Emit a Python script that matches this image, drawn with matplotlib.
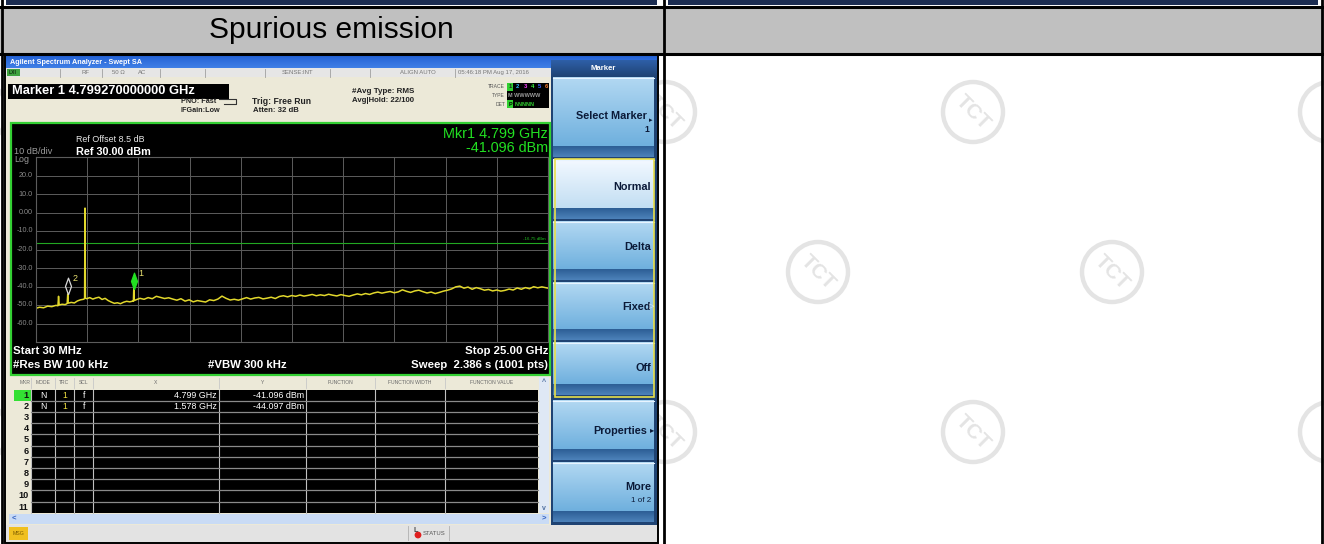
import numpy as np
import matplotlib
matplotlib.use("Agg")
import matplotlib.pyplot as plt
from matplotlib.patches import Rectangle, Circle
from matplotlib.ticker import LinearLocator
from matplotlib.colors import to_rgb
import matplotlib.transforms as mtransforms

plt.rcParams['font.family'] = ['Liberation Sans', 'DejaVu Sans']

W, H = 1324, 544

# ---- analyzer settings / data ----
start_ghz, stop_ghz = 0.03, 25.0
ref_level, db_div = 30.0, 10.0
display_line = -16.75

trace_ghz = [0.03, 0.2, 0.4, 0.6, 0.8, 1.0, 1.1, 1.13, 1.16, 1.3,
             1.45, 1.55, 1.578, 1.6, 1.75, 1.9, 2.05, 2.2, 2.35, 2.40,
             2.42, 2.44, 2.5, 2.65, 2.8, 2.95, 3.1, 3.25, 3.4, 3.55,
             3.7, 3.85, 4.0, 4.15, 4.3, 4.45, 4.6, 4.75, 4.78, 4.799,
             4.82, 4.95, 5.1, 5.3, 5.5, 5.7, 5.9, 6.1, 6.3, 6.5,
             6.7, 6.9, 7.1, 7.3, 7.5, 7.7, 7.9, 8.1, 8.3, 8.5,
             8.7, 8.9, 9.1, 9.3, 9.5, 9.7, 9.9, 10.1, 10.3, 10.5,
             10.7, 10.9, 11.1, 11.3, 11.5, 11.7, 11.9, 12.1, 12.3, 12.5,
             12.7, 12.9, 13.1, 13.3, 13.5, 13.7, 13.9, 14.1, 14.3, 14.5,
             14.7, 14.9, 15.1, 15.3, 15.5, 15.7, 15.9, 16.1, 16.3, 16.5,
             16.7, 16.9, 17.1, 17.3, 17.5, 17.7, 17.9, 18.1, 18.3, 18.5,
             18.7, 18.9, 19.1, 19.3, 19.5, 19.7, 19.9, 20.1, 20.3, 20.5,
             20.7, 20.9, 21.1, 21.3, 21.5, 21.7, 21.9, 22.1, 22.3, 22.5,
             22.7, 22.9, 23.1, 23.3, 23.5, 23.7, 23.9, 24.1, 24.3, 24.5,
             24.7, 25.0]
trace_dbm = [-51.8, -51.2, -51.5, -50.6, -50.9, -50.2, -50.4, -45.3, -50.0, -49.6,
             -49.8, -49.2, -44.1, -49.0, -48.6, -48.9, -47.8, -47.2, -46.9, -46.5,
             2.4, -46.3, -46.6, -46.0, -46.8, -46.2, -45.8, -47.0, -46.4, -47.6,
             -48.4, -49.1, -48.8, -49.3, -48.5, -48.0, -48.3, -47.9, -48.0, -41.1,
             -47.6, -47.0, -46.4, -46.9, -46.0, -46.6, -45.3, -45.9, -46.5, -46.1,
             -46.8, -47.4, -46.6, -47.9, -47.2, -48.3, -47.6, -48.0, -48.4, -47.2,
             -47.6, -46.8, -45.2, -46.4, -47.3, -46.9, -47.4, -46.7, -46.0, -46.8,
             -46.2, -45.9, -46.7, -46.3, -45.8, -46.5, -45.4, -45.0, -45.6, -44.9,
             -45.3, -44.6, -45.2, -44.8, -44.3, -45.0, -44.5, -44.9, -44.2, -44.7,
             -45.1, -44.4, -44.9, -45.3, -44.6, -44.0, -44.5, -43.8, -44.3, -43.5,
             -43.0, -43.6, -43.1, -42.7, -43.4, -42.9, -41.8, -42.6, -43.2, -42.4,
             -42.0, -42.8, -43.5, -43.0, -43.8, -43.2, -42.5, -42.0, -41.3, -40.2,
             -39.8, -40.9, -40.3, -41.5, -40.6, -41.2, -42.0, -41.6, -42.4, -41.9,
             -42.5, -42.1, -41.4, -41.9, -40.8, -41.5, -40.6, -41.2, -40.1, -40.7,
             -40.2, -40.9]

y_tick_values = [20, 10, 0, -10, -20, -30, -40, -50, -60]
y_tick_labels = ["20.0", "10.0", "0.00", "-10.0", "-20.0", "-30.0", "-40.0", "-50.0", "-60.0"]

marker_ids = ["1", "2"]
marker_ghz = [4.799, 1.578]
marker_dbm = [-41.096, -44.097]
marker_x_text = ["4.799 GHz", "1.578 GHz"]
marker_y_text = ["-41.096 dBm", "-44.097 dBm"]
table_rows = [str(i) for i in range(1, 12)]
table_cols = ["MKR", "MODE", "TRC", "SCL", "X", "Y", "FUNCTION", "FUNCTION WIDTH", "FUNCTION VALUE"]
softkeys = ["Select Marker", "Normal", "Delta", "Fixed", "Off", "Properties", "More"]

fig = plt.figure(figsize=(W / 100, H / 100), dpi=100)
bg = fig.add_axes([0, 0, 1, 1])
bg.axis('off')


def box(x0, y0, x1, y1, fc, ec='none', lw=0.0, z=1):
    bg.add_patch(Rectangle((x0, y0), x1 - x0, y1 - y0, facecolor=fc, edgecolor=ec,
                           linewidth=lw, zorder=z))


def grad(x0, y0, x1, y1, c_top, c_bot, z=1):
    a = np.array(to_rgb(c_top))
    b = np.array(to_rgb(c_bot))
    t = np.linspace(0, 1, 40)[:, None]
    img = (a * (1 - t) + b * t)[:, None, :]
    bg.imshow(img, extent=(x0, x1, y1, y0), aspect='auto', zorder=z, interpolation='bilinear')


def txt(x, y, s, size=6.0, color='black', ha='left', weight='normal', z=6, **kw):
    bg.text(x, y, s, fontsize=size, color=color, ha=ha, va='center',
            fontweight=weight, zorder=z, **kw)


# ---- document table ----
box(0, 0, W, H, 'white', z=0)
wm = '#e4e4e4'
for cx, cy in [(-22, 112), (-22, 432), (1330, 112), (1330, 432)]:
    bg.add_patch(Circle((cx, cy), 30, fill=False, ec=wm, lw=3.2, zorder=0.5))
for cx, cy in [(665, 112), (973, 112), (818, 272), (1112, 272), (665, 432), (973, 432)]:
    bg.add_patch(Circle((cx, cy), 30, fill=False, ec=wm, lw=3.2, zorder=0.5))
    txt(cx, cy, "TCT", size=15, color=wm, ha='center', weight='bold', rotation=-45, z=0.6)

box(6, 0, 657, 5, '#1c2d52', z=1)
box(668, 0, 1318, 5, '#1c2d52', z=1)
box(0, 8, W, 52.5, '#c0c0c0', z=1)
for yy in [6.5, 53.5]:
    bg.plot([0, W], [yy, yy], color='black', lw=2.2, zorder=3)
for xx in [1.5, 663.5, 1321.5]:
    bg.plot([xx, xx], [0, H], color='black', lw=2.0, zorder=3)
txt(331, 30, "Spurious emission", size=21.5, ha='center')

# ---- screenshot ----
box(5, 55, 658, 543, '#ece9d8', ec='black', lw=1.4, z=2)
grad(6, 56, 657, 68, '#2563d6', '#3f7fe6', z=2)
txt(10, 62, "Agilent Spectrum Analyzer - Swept SA", size=5.2, color='white', weight='bold')

# status strip
box(6, 68, 551, 77, '#e6e6e6', z=2)
box(7, 69, 20, 76, '#3fa33f', z=3)
txt(9, 72.5, "LXI", size=3.6, color='#103010', weight='bold')
for xx in [60, 102, 160, 205, 265, 330, 370, 455]:
    bg.plot([xx, xx], [69, 76.5], color='#a0a0a0', lw=0.6, zorder=3)
for x, s in [(82, "RF"), (112, "50 Ω"), (138, "AC"), (282, "SENSE:INT"), (400, "ALIGN AUTO"),
             (458, "05:46:18 PM Aug 17, 2016")]:
    txt(x, 72.5, s, size=4.3, color='#777777')

# marker readout header
box(8, 84, 229, 99, 'black', z=3)
txt(12, 91.5, "Marker 1 4.799270000000 GHz", size=9.3, color='white', weight='bold')
txt(216, 101.5, "PNO: Fast", size=5.2, color='#222222', ha='right', weight='bold')
txt(220, 110.5, "IFGain:Low", size=5.2, color='#222222', ha='right', weight='bold')
bg.plot([219, 236, 236, 224], [99, 99, 104, 104], color='#333333', lw=0.8, zorder=3)
txt(252, 101.5, "Trig: Free Run", size=6.2, color='#222222', weight='bold')
txt(253, 111, "Atten: 32 dB", size=5.6, color='#222222', weight='bold')
txt(352, 91.5, "#Avg Type: RMS", size=5.8, color='#222222', weight='bold')
txt(352, 101, "Avg|Hold: 22/100", size=5.6, color='#222222', weight='bold')
for y, s in [(87, "TRACE"), (95.5, "TYPE"), (104, "DET")]:
    txt(505, y, s, size=3.6, color='#555555', ha='right')
box(507, 83, 549, 108, 'black', z=3)
box(507, 83, 513, 91, '#30d030', z=3)
for i, c in enumerate(['#202020', '#30c0ff', '#ff40ff', '#40ff40', '#4060ff', '#ff8030']):
    txt(509 + i * 7.2, 87, str(i + 1), size=4.2, color=c, weight='bold')
txt(508, 95.5, "M WWWWW", size=4.0, color='#9a9a9a', weight='bold')
box(507, 100, 513, 108, '#30d030', z=3)
txt(508.5, 104, "P", size=4.0, color='black', weight='bold')
txt(515, 104, "NNNNN", size=4.0, color='#30d030', weight='bold')

# graticule panel
box(10.5, 123, 550, 375, 'black', ec='#33d033', lw=1.6, z=3)
txt(76, 139, "Ref Offset 8.5 dB", size=6.4, color='#e8e8e8')
txt(14, 152, "10 dB/div", size=6.6, color='#9a9a9a')
txt(76, 152, "Ref 30.00 dBm", size=7.8, color='white', weight='bold')
txt(14, 160, "Log", size=6.4, color='#9a9a9a')
txt(548, 133.5, "Mkr1 4.799 GHz", size=10.4, color='#22e022', ha='right')
txt(548, 148.5, "-41.096 dBm", size=10.4, color='#22e022', ha='right')
txt(13, 351, "Start 30 MHz", size=8.2, color='white', weight='bold')
txt(13, 365.5, "#Res BW 100 kHz", size=8.2, color='white', weight='bold')
txt(208, 365.5, "#VBW 300 kHz", size=8.2, color='white', weight='bold')
txt(548, 351, "Stop 25.00 GHz", size=8.2, color='white', weight='bold', ha='right')
txt(548, 365.5, "Sweep  2.386 s (1001 pts)", size=8.2, color='white', weight='bold', ha='right')

# marker table
col_x = [8, 31, 55, 74, 93, 219, 306, 375, 445, 538]
row_top, row_h = 389.5, 11.2
box(8, 377, 538, 389.5, '#ece9d8', z=3)
box(31, row_top, 538, row_top + row_h * len(table_rows), 'black', z=3)
for i, c in enumerate(table_cols):
    if i < 4:
        cx = (col_x[i] + col_x[i + 1]) / 2 + (6 if i == 0 else 0)
    else:
        cx = (col_x[i] + col_x[i + 1]) / 2
    txt(cx, 383, c, size=3.6, color='#6a6a6a', ha='center')
for xx in col_x[1:-1]:
    bg.plot([xx, xx], [378, 388], color='#c8c8c8', lw=0.6, zorder=4)
    bg.plot([xx, xx], [row_top, row_top + row_h * len(table_rows)], color='#c0c0c0', lw=0.8, zorder=4)
for k in range(1, len(table_rows)):
    yy = row_top + k * row_h
    bg.plot([31, 538], [yy, yy], color='#8a8a8a', lw=0.9, zorder=4)
box(14, row_top, 31, row_top + row_h, '#33e033', z=3)
for k, r in enumerate(table_rows):
    txt(28.5, row_top + (k + 0.5) * row_h, r, size=6.6, color='#111111', ha='right', weight='bold')
for k in range(len(marker_ids)):
    yy = row_top + (k + 0.5) * row_h
    txt(43, yy, "N", size=6.2, color='white', ha='center')
    txt(65, yy, "1", size=6.2, color='#f0e040', ha='center')
    txt(84, yy, "f", size=6.2, color='white', ha='center')
    txt(217, yy, marker_x_text[k], size=6.4, color='white', ha='right')
    txt(304, yy, marker_y_text[k], size=6.4, color='white', ha='right')
box(539, 377, 549, 513, '#dfe8f5', z=3)
txt(544, 382, "^", size=5, color='#5070a0', ha='center', weight='bold')
txt(544, 508, "v", size=5, color='#5070a0', ha='center', weight='bold')
box(9, 514, 549, 523.5, '#c9dbf5', z=3)
txt(14, 518.5, "<", size=5.5, color='#3060c0', ha='center', weight='bold')
txt(544, 518.5, ">", size=5.5, color='#3060c0', ha='center', weight='bold')

# message bar
box(6, 524.5, 657, 541.5, '#e3e3e3', z=3)
box(9, 527, 28, 540, '#f0c020', z=4)
txt(18.5, 533.5, "MSG", size=3.8, color='#7a5a00', ha='center')
bg.plot([408, 408], [526, 540], color='#b0b0b0', lw=0.6, zorder=4)
bg.plot([449, 449], [526, 540], color='#b0b0b0', lw=0.6, zorder=4)
bg.add_patch(Circle((418, 535), 3.4, fc='#e02020', ec='none', zorder=5))
txt(414, 530, "L", size=5, color='#444444', weight='bold')
txt(423, 533.5, "STATUS", size=4.2, color='#555555')

# softkey panel
box(551, 68, 657, 524.5, '#1f4373', z=2)
grad(551, 60, 657, 77, '#2e5fa8', '#1f4373', z=2)
txt(603, 69, "Marker", size=5.6, color='white', ha='center', weight='bold')
key_spans = [(77, 157), (159, 219), (221, 280), (282, 340), (342, 395), (400, 460), (462, 522)]
for k, (t, b) in enumerate(key_spans):
    top_c = '#f3f9ff' if k == 1 else '#b2d8f2'
    mid_c = '#c2def3' if k == 1 else '#6fb0de'
    grad(553, t, 654, b - 11, top_c, mid_c, z=3)
    grad(553, b - 11, 654, b, '#2c5e95', '#4d82ba', z=3)
    bg.plot([553, 654], [t + 0.5, t + 0.5], color='#e8f4ff', lw=0.8, zorder=4)
key_text_y = [116, 187, 247, 307, 368, 431, 487]
for k, s in enumerate(softkeys):
    txt(647 if k in (0, 5) else 651, key_text_y[k], s, size=7.8, color='#0b1a38', ha='right', weight='bold')
txt(652, 121, "▸", size=5, color='#0b1a38', ha='right')
txt(649, 130, "1", size=6.2, color='#0b1a38', ha='right', weight='bold')
txt(654, 307, "▷", size=5, color='#ffffff', ha='right')
txt(654, 431, "▸", size=6, color='#0b1a38', ha='right')
txt(651, 501, "1 of 2", size=5.8, color='#0b1a38', ha='right')
bg.add_patch(Rectangle((554.5, 158.5), 99, 238, fill=False, ec='#e8e04a', lw=1.2, zorder=5))

bg.set_xlim(0, W)
bg.set_ylim(H, 0)

# ---- spectrum graticule ----
ax = fig.add_axes([36 / W, 1 - 342 / H, 512 / W, 185 / H])
ax.set_facecolor('black')
ax.set_xlim(start_ghz, stop_ghz)
ax.set_ylim(ref_level - 10 * db_div, ref_level)
ax.xaxis.set_major_locator(LinearLocator(11))
ax.yaxis.set_major_locator(LinearLocator(11))
ax.grid(True, color='#5c5c5c', lw=0.7)
ax.tick_params(length=0, labelbottom=False, labelleft=False)
for s in ax.spines.values():
    s.set_color('#5c5c5c')
    s.set_linewidth(0.8)

blend = mtransforms.blended_transform_factory(ax.transAxes, ax.transData)
for v, lab in zip(y_tick_values, y_tick_labels):
    ax.text(-0.006, v, lab, transform=blend, ha='right', va='center', color='#8a8a8a',
            fontsize=5.2, clip_on=False)

ax.axhline(display_line, color='#22a822', lw=0.8)
ax.text(0.995, display_line + 1.2, "-16.75 dBm", transform=blend, ha='right', va='bottom',
        color='#22c022', fontsize=3.2)
ax.plot(trace_ghz, trace_dbm, color='#e2d82c', lw=1.1)

diamond = [(0, -1), (0.36, 0), (0, 1), (-0.36, 0), (0, -1)]
lift = mtransforms.offset_copy(ax.transData, fig=fig, y=5.5, units='points')
for mid, fx, lv in zip(marker_ids, marker_ghz, marker_dbm):
    filled = mid == "1"
    ax.plot([fx], [lv], marker=diamond, markersize=12, transform=lift,
            mfc='#22e022' if filled else 'none', mec='#22e022' if filled else '#d8d8d8',
            mew=0.9, ls='none', zorder=5)
    ax.annotate(mid, (fx, lv), xytext=(3.5, 11), textcoords='offset points', color='#e8e070',
                fontsize=6.5, ha='left', va='center')

fig.savefig("out.png", dpi=100)
